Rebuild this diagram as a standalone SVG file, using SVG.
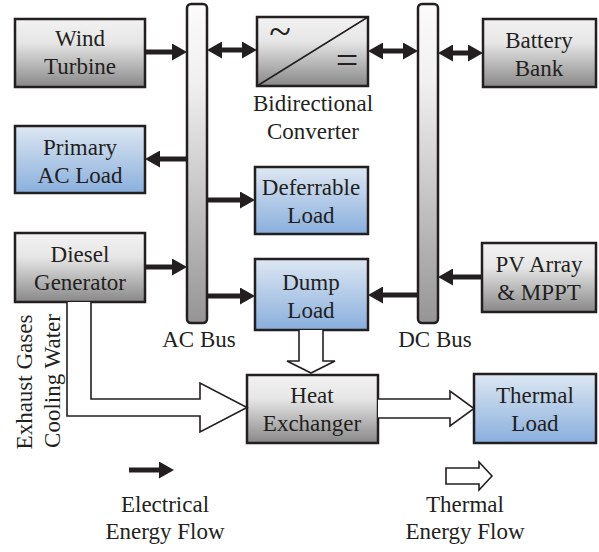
<svg xmlns="http://www.w3.org/2000/svg" width="599" height="552" viewBox="0 0 599 552">
<defs>
<linearGradient id="gGray" x1="0" y1="0" x2="0" y2="1">
<stop offset="0" stop-color="#f2f2f2"/>
<stop offset="0.35" stop-color="#e6e6e6"/>
<stop offset="1" stop-color="#888888"/>
</linearGradient>
<linearGradient id="gBlue" x1="0" y1="0" x2="0" y2="1">
<stop offset="0" stop-color="#dde7f2"/>
<stop offset="1" stop-color="#89afdd"/>
</linearGradient>
<linearGradient id="gBus" x1="0" y1="0" x2="0" y2="1">
<stop offset="0" stop-color="#fbfbfb"/>
<stop offset="0.25" stop-color="#f0f0f0"/>
<stop offset="1" stop-color="#959595"/>
</linearGradient>
<marker id="ah" viewBox="0 0 15 17" markerWidth="15" markerHeight="17" markerUnits="userSpaceOnUse" refX="5" refY="8.5" orient="auto-start-reverse">
<path d="M0,0 L15,8.5 L0,17 z" fill="#231f20"/>
</marker>
</defs>
<style>
.box{stroke:#231f20;stroke-width:2.5}
.gray{fill:url(#gGray)}
.blue{fill:url(#gBlue)}
.bus{fill:url(#gBus);stroke:#231f20;stroke-width:2.5}
text{font-family:'Liberation Serif','DejaVu Serif',serif;fill:#231f20;text-anchor:middle}
.t{font-size:23px}
.sym{font-size:40px}
.ea{stroke:#231f20;stroke-width:5;fill:none;marker-end:url(#ah)}
.ba{stroke:#231f20;stroke-width:5;fill:none;marker-end:url(#ah);marker-start:url(#ah)}
.ha{fill:#ffffff;stroke:#231f20;stroke-width:1.6;stroke-linejoin:miter}
</style>

<g id="ac-bus">
<rect class="bus" x="187" y="4" width="20" height="319" rx="4"/>
<text class="t" x="199" y="347" font-family="Liberation Serif, serif">AC Bus</text>
</g>
<g id="dc-bus">
<rect class="bus" x="418" y="4" width="20" height="319" rx="4"/>
<text class="t" x="435" y="347">DC Bus</text>
</g>

<g id="wind-turbine">
<rect class="box gray" x="15" y="19" width="130" height="68"/>
<text class="t" x="80" y="46">Wind</text>
<text class="t" x="80" y="74">Turbine</text>
</g>
<g id="converter">
<rect class="box gray" x="257" y="17" width="111" height="69"/>
<line x1="257" y1="86" x2="368" y2="17" stroke="#231f20" stroke-width="1.5"/>
<text class="sym" x="280" y="45">~</text>
<text class="sym" x="347" y="74">=</text>
<text class="t" x="313" y="111">Bidirectional</text>
<text class="t" x="313" y="139">Converter</text>
</g>
<g id="battery-bank">
<rect class="box gray" x="483" y="19" width="113" height="68"/>
<text class="t" x="539" y="48">Battery</text>
<text class="t" x="539" y="76">Bank</text>
</g>
<g id="primary-ac-load">
<rect class="box blue" x="15" y="126" width="130" height="67"/>
<text class="t" x="80" y="155">Primary</text>
<text class="t" x="80" y="183">AC Load</text>
</g>
<g id="deferrable-load">
<rect class="box blue" x="255" y="167" width="113" height="67"/>
<text class="t" x="311" y="195">Deferrable</text>
<text class="t" x="311" y="223">Load</text>
</g>
<g id="diesel-generator">
<rect class="box gray" x="15" y="233" width="130" height="69"/>
<text class="t" x="80" y="262">Diesel</text>
<text class="t" x="80" y="290">Generator</text>
</g>
<g id="dump-load">
<rect class="box blue" x="255" y="259" width="113" height="71"/>
<text class="t" x="311" y="290">Dump</text>
<text class="t" x="311" y="318">Load</text>
</g>
<g id="pv-array">
<rect class="box gray" x="482" y="243" width="114" height="69"/>
<text class="t" x="539" y="272">PV Array</text>
<text class="t" x="539" y="300">&amp; MPPT</text>
</g>
<g id="heat-exchanger">
<rect class="box gray" x="247" y="375" width="131" height="68"/>
<text class="t" x="312" y="403">Heat</text>
<text class="t" x="312" y="431">Exchanger</text>
</g>
<g id="thermal-load">
<rect class="box blue" x="474" y="374" width="122" height="69"/>
<text class="t" x="535" y="403">Thermal</text>
<text class="t" x="535" y="431">Load</text>
</g>

<g id="connectors">
<line class="ea" x1="145" y1="52" x2="177" y2="52"/>
<line class="ba" x1="217" y1="50" x2="247" y2="50"/>
<line class="ba" x1="378" y1="51" x2="408" y2="51"/>
<line class="ba" x1="448" y1="53" x2="473" y2="53"/>
<line class="ea" x1="187" y1="159" x2="155" y2="159"/>
<line class="ea" x1="207" y1="200" x2="245" y2="200"/>
<line class="ea" x1="145" y1="267" x2="177" y2="267"/>
<line class="ea" x1="207" y1="296" x2="245" y2="296"/>
<line class="ea" x1="418" y1="295" x2="378" y2="295"/>
<line class="ea" x1="482" y1="277" x2="448" y2="277"/>
<path class="ha" d="M91,302 L91,399 L200,399 L200,383 L247,407.5 L200,432 L200,416 L67,416 L67,302"/>
<path class="ha" d="M299,330 L299,361 L287,361 L311,373 L335,361 L323,361 L323,330"/>
<path class="ha" d="M378,399 L450,399 L450,391 L474,408.5 L450,426 L450,418 L378,418"/>
</g>

<g id="side-labels">
<text class="t" transform="translate(32,382) rotate(-90)">Exhaust Gases</text>
<text class="t" transform="translate(60,381) rotate(-90)">Cooling Water</text>
</g>

<g id="legend">
<line class="ea" x1="129" y1="470" x2="164" y2="470"/>
<text class="t" x="165" y="512">Electrical</text>
<text class="t" x="165" y="539">Energy Flow</text>
<path class="ha" d="M446,468 L479,468 L479,462 L492,476 L479,490 L479,484 L446,484 z"/>
<text class="t" x="465" y="512">Thermal</text>
<text class="t" x="465" y="539">Energy Flow</text>
</g>
</svg>
